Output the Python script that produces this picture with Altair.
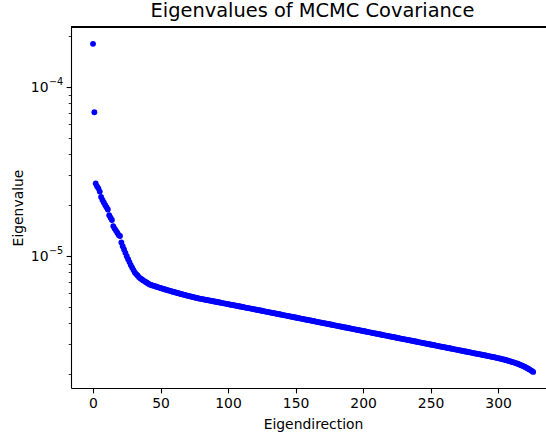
import altair as alt
import pandas as pd

# Eigenvalues (log scale), index 0..326
eigenvalues = [
    1.80e-4, 7.08e-5, 2.68e-5, 2.58e-5, 2.51e-5, 2.40e-5, 2.23e-5, 2.14e-5, 2.07e-5, 2.00e-5,
    1.94e-5, 1.88e-5, 1.74e-5, 1.68e-5, 1.63e-5, 1.50e-5, 1.45e-5, 1.41e-5, 1.37e-5, 1.33e-5,
    1.31e-5, 1.20e-5, 1.14e-5, 1.09e-5, 1.04e-5, 9.95e-6, 9.55e-6, 9.18e-6, 8.81e-6, 8.51e-6,
    8.23e-6, 7.95e-6, 7.79e-6, 7.64e-6, 7.48e-6, 7.35e-6, 7.26e-6, 7.17e-6, 7.08e-6, 7.00e-6,
    6.92e-6, 6.84e-6, 6.77e-6, 6.72e-6, 6.68e-6, 6.64e-6, 6.60e-6, 6.56e-6, 6.52e-6, 6.48e-6,
    6.444e-6, 6.408e-6, 6.372e-6, 6.337e-6, 6.302e-6, 6.268e-6, 6.234e-6, 6.200e-6, 6.167e-6, 6.134e-6,
    6.102e-6, 6.070e-6, 6.039e-6, 6.008e-6, 5.977e-6, 5.947e-6, 5.918e-6, 5.889e-6, 5.860e-6, 5.832e-6,
    5.804e-6, 5.777e-6, 5.750e-6, 5.724e-6, 5.698e-6, 5.672e-6, 5.647e-6, 5.622e-6, 5.598e-6, 5.574e-6,
    5.560e-6, 5.540e-6, 5.520e-6, 5.500e-6, 5.480e-6, 5.460e-6, 5.440e-6, 5.421e-6, 5.401e-6, 5.382e-6,
    5.363e-6, 5.343e-6, 5.324e-6, 5.305e-6, 5.286e-6, 5.267e-6, 5.248e-6, 5.229e-6, 5.210e-6, 5.192e-6,
    5.173e-6, 5.155e-6, 5.136e-6, 5.118e-6, 5.099e-6, 5.081e-6, 5.063e-6, 5.044e-6, 5.026e-6, 5.008e-6,
    4.990e-6, 4.972e-6, 4.954e-6, 4.937e-6, 4.919e-6, 4.901e-6, 4.884e-6, 4.866e-6, 4.849e-6, 4.831e-6,
    4.814e-6, 4.796e-6, 4.778e-6, 4.761e-6, 4.743e-6, 4.726e-6, 4.708e-6, 4.691e-6, 4.674e-6, 4.657e-6,
    4.640e-6, 4.623e-6, 4.606e-6, 4.589e-6, 4.572e-6, 4.555e-6, 4.538e-6, 4.522e-6, 4.505e-6, 4.489e-6,
    4.472e-6, 4.456e-6, 4.440e-6, 4.423e-6, 4.407e-6, 4.390e-6, 4.374e-6, 4.358e-6, 4.342e-6, 4.327e-6,
    4.311e-6, 4.295e-6, 4.279e-6, 4.263e-6, 4.248e-6, 4.232e-6, 4.216e-6, 4.201e-6, 4.185e-6, 4.170e-6,
    4.155e-6, 4.140e-6, 4.124e-6, 4.109e-6, 4.094e-6, 4.078e-6, 4.063e-6, 4.048e-6, 4.034e-6, 4.019e-6,
    4.005e-6, 3.990e-6, 3.975e-6, 3.961e-6, 3.946e-6, 3.932e-6, 3.917e-6, 3.903e-6, 3.889e-6, 3.874e-6,
    3.860e-6, 3.846e-6, 3.832e-6, 3.818e-6, 3.803e-6, 3.789e-6, 3.775e-6, 3.761e-6, 3.748e-6, 3.734e-6,
    3.721e-6, 3.707e-6, 3.693e-6, 3.680e-6, 3.666e-6, 3.653e-6, 3.639e-6, 3.626e-6, 3.613e-6, 3.599e-6,
    3.586e-6, 3.573e-6, 3.560e-6, 3.547e-6, 3.533e-6, 3.520e-6, 3.507e-6, 3.494e-6, 3.482e-6, 3.469e-6,
    3.456e-6, 3.444e-6, 3.431e-6, 3.418e-6, 3.405e-6, 3.393e-6, 3.380e-6, 3.368e-6, 3.356e-6, 3.343e-6,
    3.331e-6, 3.319e-6, 3.307e-6, 3.295e-6, 3.282e-6, 3.270e-6, 3.258e-6, 3.246e-6, 3.235e-6, 3.223e-6,
    3.211e-6, 3.200e-6, 3.188e-6, 3.176e-6, 3.164e-6, 3.153e-6, 3.141e-6, 3.130e-6, 3.118e-6, 3.107e-6,
    3.095e-6, 3.084e-6, 3.073e-6, 3.061e-6, 3.050e-6, 3.038e-6, 3.027e-6, 3.016e-6, 3.005e-6, 2.994e-6,
    2.983e-6, 2.972e-6, 2.962e-6, 2.951e-6, 2.940e-6, 2.929e-6, 2.918e-6, 2.907e-6, 2.897e-6, 2.886e-6,
    2.876e-6, 2.865e-6, 2.854e-6, 2.844e-6, 2.833e-6, 2.823e-6, 2.812e-6, 2.802e-6, 2.792e-6, 2.782e-6,
    2.772e-6, 2.762e-6, 2.751e-6, 2.741e-6, 2.731e-6, 2.721e-6, 2.711e-6, 2.701e-6, 2.691e-6, 2.682e-6,
    2.672e-6, 2.662e-6, 2.652e-6, 2.642e-6, 2.633e-6, 2.623e-6, 2.613e-6, 2.604e-6, 2.594e-6, 2.585e-6,
    2.575e-6, 2.566e-6, 2.556e-6, 2.547e-6, 2.537e-6, 2.528e-6, 2.518e-6, 2.508e-6, 2.498e-6, 2.488e-6,
    2.477e-6, 2.467e-6, 2.456e-6, 2.445e-6, 2.434e-6, 2.422e-6, 2.410e-6, 2.398e-6, 2.385e-6, 2.372e-6,
    2.359e-6, 2.345e-6, 2.331e-6, 2.316e-6, 2.301e-6, 2.285e-6, 2.268e-6, 2.251e-6, 2.233e-6, 2.214e-6,
    2.194e-6, 2.173e-6, 2.151e-6, 2.128e-6, 2.104e-6, 2.079e-6, 2.052e-6,
]
directions = list(range(len(eigenvalues)))

x_ticks = [0, 50, 100, 150, 200, 250, 300]
y_ticks = [2e-6, 3e-6, 4e-6, 5e-6, 6e-6, 7e-6, 8e-6, 9e-6,
           1e-5, 2e-5, 3e-5, 4e-5, 5e-5, 6e-5, 7e-5, 8e-5, 9e-5,
           1e-4, 2e-4]
# major y tick labels: base and exponent (drawn as real text)
label_values = [1e-4, 1e-5]
label_bases = ["10", "10"]
label_exponents = ["\u22124", "\u22125"]

df = pd.DataFrame({"direction": directions, "eigenvalue": eigenvalues})
lab = pd.DataFrame({"v": label_values, "base": label_bases, "exp": label_exponents})

FONT = "DejaVu Sans"
W, H = 475, 361
YDOM = [1.648e-6, 2.265e-4]

major_test = "abs(log(datum.value)/LN10 - round(log(datum.value)/LN10)) < 0.01"

points = alt.Chart(df).mark_circle(size=34, color="#0000ff", opacity=1).encode(
    x=alt.X(
        "direction:Q",
        scale=alt.Scale(domain=[-16.3, 335.5], nice=False, zero=False),
        axis=alt.Axis(
            title="Eigendirection",
            values=x_ticks,
            grid=False,
            domainColor="black",
            domainWidth=1.1,
            tickColor="black",
            tickWidth=1.1,
            tickSize=4.9,
            labelPadding=4.0,
            labelFont=FONT,
            labelFontSize=13.9,
            labelColor="black",
            titleFont=FONT,
            titleFontSize=13.9,
            titleFontWeight="normal",
            titleColor="black",
            titlePadding=7,
            titleX=242,
            titleAlign="center",
        ),
    ),
    y=alt.Y(
        "eigenvalue:Q",
        scale=alt.Scale(type="log", domain=YDOM, nice=False),
        axis=alt.Axis(
            title="Eigenvalue",
            values=y_ticks,
            grid=False,
            domainColor="black",
            domainWidth=1.1,
            tickColor="black",
            tickWidth={"condition": {"test": major_test, "value": 1.1}, "value": 0.8},
            tickSize={"condition": {"test": major_test, "value": 4.9}, "value": 2.8},
            labels=False,
            titleFont=FONT,
            titleFontSize=13.9,
            titleFontWeight="normal",
            titleColor="black",
            titleX=-53,
            titleY=H / 2,
            titleAngle=-90,
            titleAlign="center",
            titleBaseline="middle",
        ),
    ),
)

base_text = alt.Chart(lab).mark_text(
    font=FONT, fontSize=13.9, align="right", baseline="middle", color="black", dy=1
).encode(
    y=alt.Y("v:Q", scale=alt.Scale(type="log", domain=YDOM, nice=False)),
    x=alt.value(-22.5),
    text="base:N",
)

exp_text = alt.Chart(lab).mark_text(
    font=FONT, fontSize=9.7, align="left", baseline="middle", color="black", dy=-5
).encode(
    y=alt.Y("v:Q", scale=alt.Scale(type="log", domain=YDOM, nice=False)),
    x=alt.value(-22),
    text="exp:N",
)

top_spine = alt.Chart(df).mark_rule(color="black", strokeWidth=1.1).encode(
    x=alt.value(0), x2=alt.value(W), y=alt.value(0)
)

chart = (
    alt.layer(points, base_text, exp_text, top_spine)
    .properties(
        width=W,
        height=H,
        title=alt.TitleParams(
            "Eigenvalues of MCMC Covariance",
            font=FONT,
            fontSize=19.4,
            fontWeight="normal",
            color="black",
            anchor="middle",
            offset=5,
            dx=4,
        ),
        autosize=alt.AutoSizeParams(type="none"),
        padding={"left": 71, "top": 27, "right": 0, "bottom": 45},
    )
    .configure_view(stroke=None)
    .configure(background="white")
)

chart.save("out.html", embed_options={"renderer": "svg", "actions": False})
